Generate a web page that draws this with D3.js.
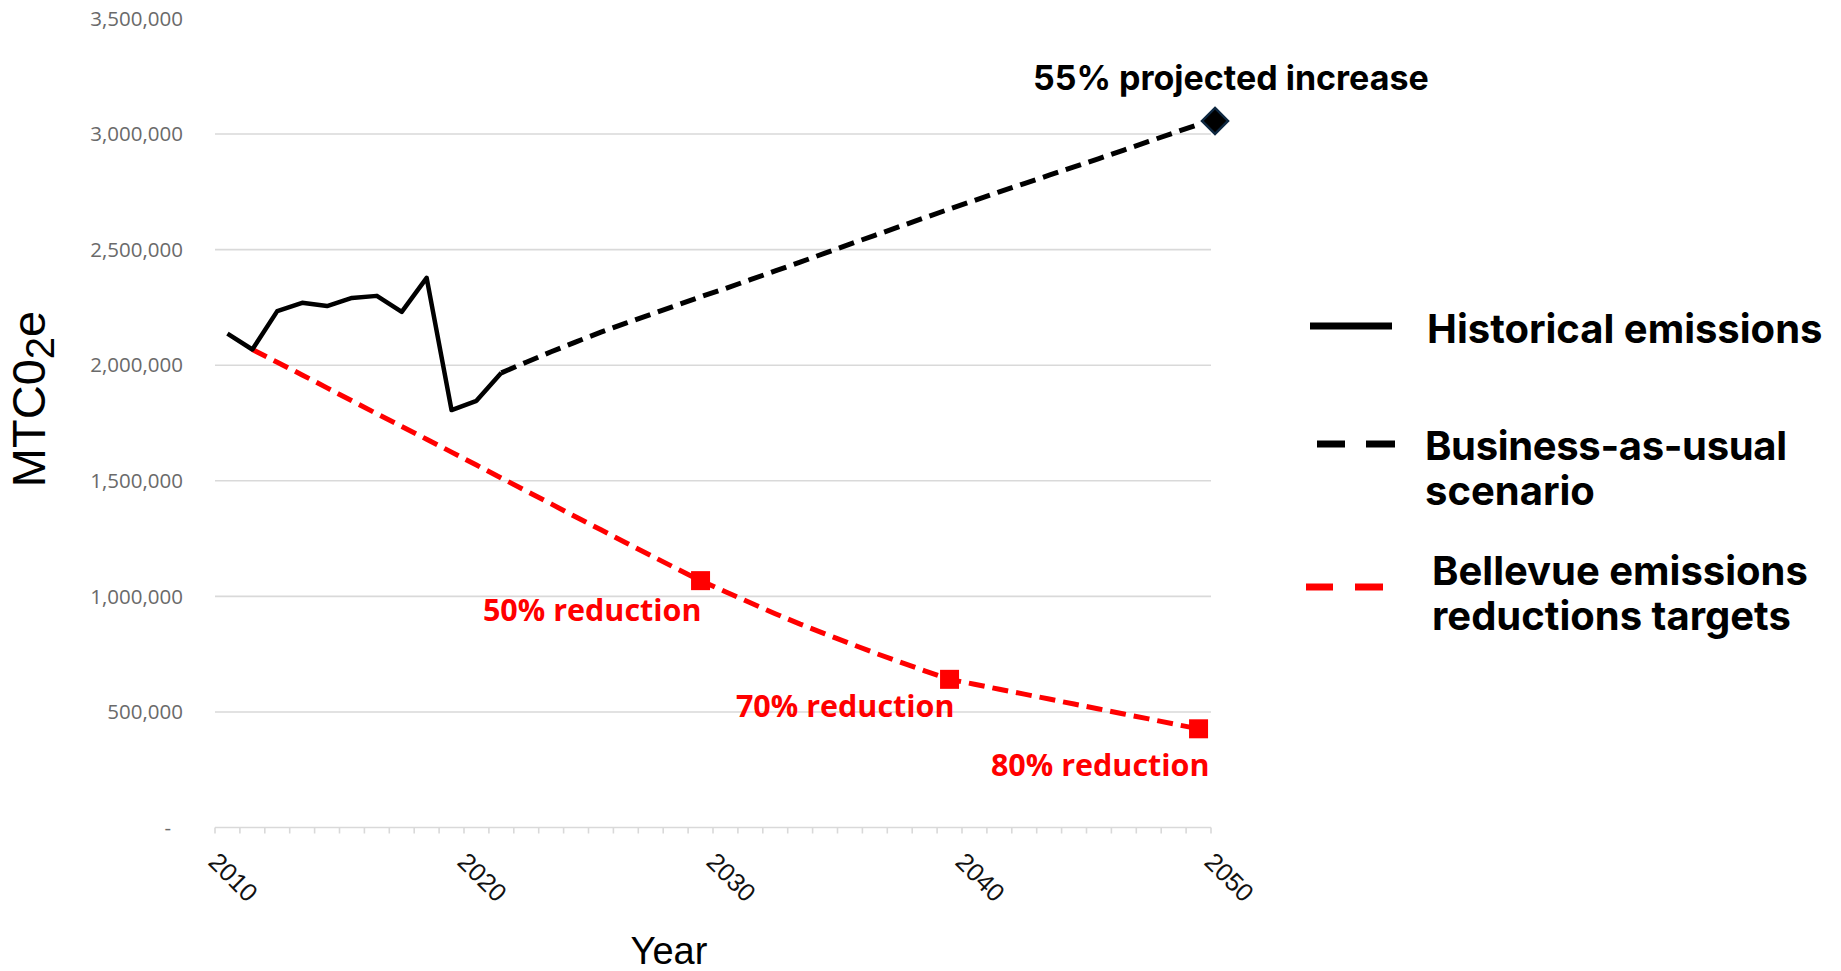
<!DOCTYPE html>
<html>
<head>
<meta charset="utf-8">
<script src="https://cdn.jsdelivr.net/npm/d3@7"></script>
<style>
    body { margin: 0; background: #ffffff; }
</style>
</head>
<body>
<div id="chart"></div>
<script>
// Categories (one per year, Excel style: points sit in the middle of each category)
const years = d3.range(2011, 2051);

// Historical emissions (solid black)
const historicalYears = [2011, 2012, 2013, 2014, 2015, 2016, 2017, 2018, 2019, 2020, 2021, 2022];
const historicalValues = [2137000, 2068000, 2234000, 2270000, 2256000, 2291000, 2300000, 2231000, 2378000, 1806000, 1846000, 1967000];

// Business-as-usual projection (dashed black)
const bauYears = [2022, 2023, 2024, 2025, 2026, 2027, 2028, 2029, 2030, 2031, 2032, 2033, 2034, 2035, 2036,
    2037, 2038, 2039, 2040, 2041, 2042, 2043, 2044, 2045, 2046, 2047, 2048, 2049, 2050];
const bauValues = [1967000, 2013000, 2058000, 2101000, 2143000, 2182000, 2220000, 2258000, 2296000, 2332000, 2370000,
    2408000, 2446000, 2485000, 2524000, 2562000, 2600000, 2638000, 2676000, 2713000, 2750000, 2786000, 2822000,
    2858000, 2894000, 2931000, 2968000, 3005000, 3042000];
const bauEndMarker = 3057000;

// Bellevue reduction targets (dashed red)
const targetYears = [2012, 2013, 2014, 2015, 2016, 2017, 2018, 2019, 2020, 2021, 2022, 2023, 2024, 2025, 2026,
    2027, 2028, 2029, 2030, 2031, 2032, 2033, 2034, 2035, 2036, 2037, 2038, 2039, 2040, 2041, 2042, 2043, 2044,
    2045, 2046, 2047, 2048, 2049, 2050];
const targetValues = [2068000, 2013000, 1958000, 1902000, 1846000, 1790000, 1735000, 1680000, 1624000, 1568000,
    1512000, 1456000, 1400000, 1343000, 1288000, 1232000, 1177000, 1122000, 1068000, 1020000, 972000, 925000,
    880000, 838000, 796000, 755000, 716000, 678000, 641000, 620000, 598000, 577000, 556000, 534000, 513000,
    491000, 470000, 448000, 427000];

// Milestones on the target line
const milestoneYears = [2030, 2040, 2050];
const milestoneLabels = ["50% reduction", "70% reduction", "80% reduction"];

// Axis ticks
const yTicks = [0, 500000, 1000000, 1500000, 2000000, 2500000, 3000000, 3500000];
const xTickLabels = [2010, 2020, 2030, 2040, 2050];

(function () {

    const svg = d3.select('#chart')
        .append('svg')
        .attr('width', 1841)
        .attr('height', 971);

    const left = 215, right = 1211, top = 18.5, bottom = 827.5;

    const x = d3.scaleBand()
        .domain(years)
        .range([left, right])
        .padding(0);

    const y = d3.scaleLinear()
        .domain([0, 3500000])
        .range([bottom, top]);

    const cx = yr => x(yr) + x.bandwidth() / 2;
    // boundary to the right of a year's category (2010 -> left edge of 2011)
    const edge = yr => x(2011) + (yr - 2010) * x.step();

    // Gridlines
    svg.append('g')
        .selectAll('line')
        .data(yTicks.filter(v => v > 0 && v < 3500000))
        .join('line')
        .attr('x1', left)
        .attr('x2', right)
        .attr('y1', d => y(d))
        .attr('y2', d => y(d))
        .attr('stroke', '#d9d9d9')
        .attr('stroke-width', 1.6);

    // Y tick labels
    svg.append('g')
        .selectAll('text')
        .data(yTicks)
        .join('text')
        .attr('x', d => d === 0 ? 171 : 183)
        .attr('y', d => y(d))
        .attr('dy', '0.35em')
        .attr('text-anchor', 'end')
        .attr('font-family', 'Open Sans, sans-serif')
        .attr('font-size', 20.5)
        .attr('fill', '#6a6a6a')
        .text(d => d === 0 ? '-' : d3.format(',')(d));

    // X axis line and category ticks
    svg.append('line')
        .attr('x1', left)
        .attr('x2', right)
        .attr('y1', bottom)
        .attr('y2', bottom)
        .attr('stroke', '#d9d9d9')
        .attr('stroke-width', 1.6);

    svg.append('g')
        .selectAll('line')
        .data(years.map(yr => x(yr)).concat([right]))
        .join('line')
        .attr('x1', d => d)
        .attr('x2', d => d)
        .attr('y1', bottom)
        .attr('y2', bottom + 6)
        .attr('stroke', '#d9d9d9')
        .attr('stroke-width', 1.6);

    // X tick labels, rotated 45 degrees
    svg.append('g')
        .selectAll('text')
        .data(xTickLabels)
        .join('text')
        .attr('transform', d => `translate(${edge(d) - 8}, ${bottom + 36}) rotate(45)`)
        .attr('font-family', 'Liberation Sans, Arial, sans-serif')
        .attr('font-size', 25.5)
        .attr('fill', '#111111')
        .text(d => d);

    // Axis titles
    const yTitle = svg.append('text')
        .attr('transform', 'translate(45, 399) rotate(-90)')
        .attr('text-anchor', 'middle')
        .attr('font-family', 'Liberation Sans, Arial, sans-serif')
        .attr('font-size', 47)
        .attr('fill', '#000000');
    yTitle.append('tspan').text('MTC0');
    yTitle.append('tspan').attr('font-size', 40).attr('dy', 9).text('2');
    yTitle.append('tspan').attr('dy', -9).text('e');

    svg.append('text')
        .attr('x', 669)
        .attr('y', 964)
        .attr('text-anchor', 'middle')
        .attr('font-family', 'Liberation Sans, Arial, sans-serif')
        .attr('font-size', 38)
        .attr('fill', '#000000')
        .text('Year');

    // Line generators
    const lineGen = d3.line()
        .x(d => cx(d[0]))
        .y(d => y(d[1]));

    // Reduction targets (drawn under the historical line)
    svg.append('path')
        .attr('d', lineGen(d3.zip(targetYears, targetValues)))
        .attr('fill', 'none')
        .attr('stroke', '#ff0000')
        .attr('stroke-width', 5)
        .attr('stroke-dasharray', '16,8');

    // Business-as-usual
    svg.append('path')
        .attr('d', lineGen(d3.zip(bauYears, bauValues)))
        .attr('fill', 'none')
        .attr('stroke', '#000000')
        .attr('stroke-width', 5)
        .attr('stroke-dasharray', '16,8');

    // Historical
    svg.append('path')
        .attr('d', lineGen(d3.zip(historicalYears, historicalValues)))
        .attr('fill', 'none')
        .attr('stroke', '#000000')
        .attr('stroke-width', 4.5)
        .attr('stroke-linejoin', 'round');

    // Milestone squares and labels
    const milestoneValue = yr => targetValues[targetYears.indexOf(yr)];
    const labelShift = [[1, 40], [5, 38], [11, 47]];

    svg.append('g')
        .selectAll('rect')
        .data(milestoneYears)
        .join('rect')
        .attr('x', d => cx(d) - 9.5)
        .attr('y', d => y(milestoneValue(d)) - 9.5)
        .attr('width', 19)
        .attr('height', 19)
        .attr('fill', '#ff0000');

    svg.append('g')
        .selectAll('text')
        .data(milestoneYears)
        .join('text')
        .attr('x', (d, i) => cx(d) + labelShift[i][0])
        .attr('y', (d, i) => y(milestoneValue(d)) + labelShift[i][1])
        .attr('text-anchor', 'end')
        .attr('font-family', 'Open Sans, sans-serif')
        .attr('font-weight', 700)
        .attr('font-size', 30.5)
        .attr('fill', '#ff0000')
        .text((d, i) => milestoneLabels[i]);

    // BAU end diamond + annotation
    const dX = right + 4, dY = y(bauEndMarker);
    svg.append('path')
        .attr('d', `M${dX},${dY - 13} L${dX + 13},${dY} L${dX},${dY + 13} L${dX - 13},${dY} Z`)
        .attr('fill', '#000000')
        .attr('stroke', '#0e2841')
        .attr('stroke-width', 2.5);

    svg.append('text')
        .attr('x', 1033)
        .attr('y', 90)
        .attr('font-family', 'Inter, sans-serif')
        .attr('font-weight', 700)
        .attr('font-size', 34)
        .attr('fill', '#000000')
        .text('55% projected increase');

    // Legend
    const legend = svg.append('g')
        .attr('font-family', 'Inter, sans-serif')
        .attr('font-weight', 700)
        .attr('font-size', 40)
        .attr('fill', '#000000');

    legend.append('line')
        .attr('x1', 1310).attr('x2', 1392)
        .attr('y1', 326).attr('y2', 326)
        .attr('stroke', '#000000')
        .attr('stroke-width', 7);

    legend.append('text')
        .attr('x', 1427).attr('y', 343)
        .text('Historical emissions');

    [[1317, 1345], [1366, 1395]].forEach(seg => {
        legend.append('line')
            .attr('x1', seg[0]).attr('x2', seg[1])
            .attr('y1', 444).attr('y2', 444)
            .attr('stroke', '#000000')
            .attr('stroke-width', 7);
    });

    legend.append('text')
        .attr('x', 1425).attr('y', 460)
        .attr('textLength', 362)
        .text('Business-as-usual');
    legend.append('text')
        .attr('x', 1425).attr('y', 505)
        .text('scenario');

    [[1306, 1333], [1355, 1383]].forEach(seg => {
        legend.append('line')
            .attr('x1', seg[0]).attr('x2', seg[1])
            .attr('y1', 587).attr('y2', 587)
            .attr('stroke', '#ff0000')
            .attr('stroke-width', 7);
    });

    legend.append('text')
        .attr('x', 1432).attr('y', 585)
        .text('Bellevue emissions');
    legend.append('text')
        .attr('x', 1432).attr('y', 630)
        .text('reductions targets');

})();
</script>
</body>
</html>
